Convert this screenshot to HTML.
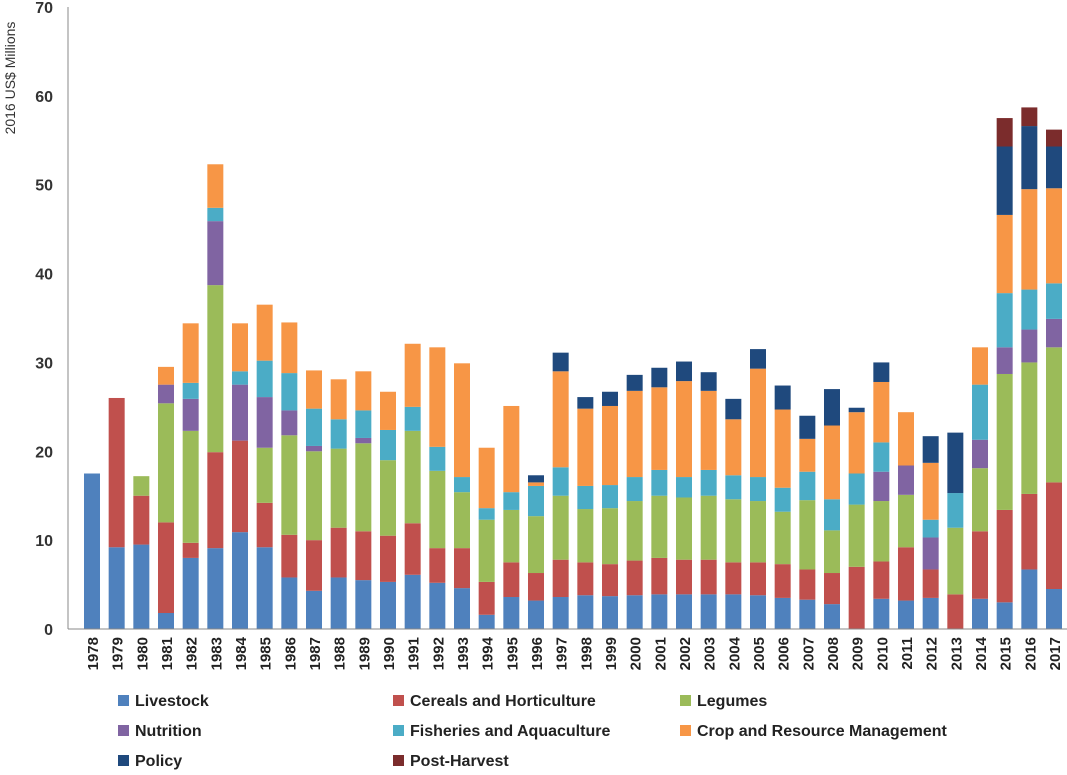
<!DOCTYPE html>
<html><head><meta charset="utf-8"><style>
body{margin:0;background:#fff;font-family:"Liberation Sans",sans-serif;}
svg text{font-family:"Liberation Sans",sans-serif;}
</style></head><body>
<svg id="chart" width="1067" height="770" xmlns="http://www.w3.org/2000/svg">
<g id="plot"></g>
<g id="legend"></g>
</svg>
<script>
const years=[1978,1979,1980,1981,1982,1983,1984,1985,1986,1987,1988,1989,1990,1991,1992,1993,1994,1995,1996,1997,1998,1999,2000,2001,2002,2003,2004,2005,2006,2007,2008,2009,2010,2011,2012,2013,2014,2015,2016,2017];
const seriesNames=["Livestock","Cereals and Horticulture","Legumes","Nutrition","Fisheries and Aquaculture","Crop and Resource Management","Policy","Post-Harvest"];
const livestock=[17.5,9.2,9.5,1.8,8.0,9.1,10.9,9.2,5.8,4.3,5.8,5.5,5.3,6.1,5.2,4.6,1.6,3.6,3.2,3.6,3.8,3.7,3.8,3.9,3.9,3.9,3.9,3.8,3.5,3.3,2.8,0,3.4,3.2,3.5,0,3.4,3.0,6.7,4.5];
const cereals=[0,16.8,5.5,10.2,1.7,10.8,10.3,5.0,4.8,5.7,5.6,5.5,5.2,5.8,3.9,4.5,3.7,3.9,3.1,4.2,3.7,3.6,3.9,4.1,3.9,3.9,3.6,3.7,3.8,3.4,3.5,7.0,4.2,6.0,3.2,3.9,7.6,10.4,8.5,12.0];
const legumes=[0,0,2.2,13.4,12.6,18.8,0,6.2,11.2,10.0,8.9,9.9,8.5,10.4,8.7,6.3,7.0,5.9,6.4,7.2,6.0,6.3,6.7,7.0,7.0,7.2,7.1,6.9,5.9,7.8,4.8,7.0,6.8,5.9,0,7.5,7.1,15.3,14.8,15.2];
const nutrition=[0,0,0,2.1,3.6,7.2,6.3,5.7,2.8,0.6,0,0.6,0,0,0,0,0,0,0,0,0,0,0,0,0,0,0,0,0,0,0,0,3.3,3.3,3.6,0,3.2,3.0,3.7,3.2];
const fisheries=[0,0,0,0,1.8,1.5,1.5,4.1,4.2,4.2,3.3,3.1,3.4,2.7,2.7,1.7,1.3,2.0,3.4,3.2,2.6,2.6,2.7,2.9,2.3,2.9,2.7,2.7,2.7,3.2,3.5,3.5,3.3,0,2.0,3.9,6.2,6.1,4.5,4.0];
const crop=[0,0,0,2.0,6.7,4.9,5.4,6.3,5.7,4.3,4.5,4.4,4.3,7.1,11.2,12.8,6.8,9.7,0.4,10.8,8.7,8.9,9.7,9.3,10.8,8.9,6.3,12.2,8.8,3.7,8.3,6.9,6.8,6.0,6.4,0,4.2,8.8,11.3,10.7];
const policy=[0,0,0,0,0,0,0,0,0,0,0,0,0,0,0,0,0,0,0.8,2.1,1.3,1.6,1.8,2.2,2.2,2.1,2.3,2.2,2.7,2.6,4.1,0.5,2.2,0,3.0,6.8,0,7.7,7.1,4.7];
const postHarvest=[0,0,0,0,0,0,0,0,0,0,0,0,0,0,0,0,0,0,0,0,0,0,0,0,0,0,0,0,0,0,0,0,0,0,0,0,0,3.2,2.1,1.9];
const yTicks=[0,10,20,30,40,50,60,70];
const colors=["#4f81bd","#c0504d","#9bbb59","#8064a2","#4bacc6","#f79646","#1f497d","#7b2c2c"];
const series=[livestock,cereals,legumes,nutrition,fisheries,crop,policy,postHarvest];
const NS="http://www.w3.org/2000/svg";
const x0=68,y0=629,yTop=7,yMax=70;
const firstC=92,lastC=1054,bw=16;
function yS(v){return y0-(v/yMax)*(y0-yTop);}
function xS(i){return firstC+i*(lastC-firstC)/(years.length-1);}
function mk(t,a,p){const e=document.createElementNS(NS,t);for(const k in a)e.setAttribute(k,a[k]);p.appendChild(e);return e;}
const plot=document.getElementById('plot');
// y ticks
yTicks.forEach(v=>{
 const t=mk('text',{x:53,y:yS(v)+6,'text-anchor':'end','font-size':16,'font-weight':'bold',fill:'#333'},plot);
 t.textContent=v;
 
 
});
const yt=mk('text',{x:0,y:0,transform:'translate(15,78) rotate(-90)','text-anchor':'middle','font-size':14,fill:'#333'},plot);
yt.textContent='2016 US$ Millions';


// bars
years.forEach((yr,i)=>{
 let cum=0;
 series.forEach((s,k)=>{
  const v=s[i]; if(!v)return;
  const r=mk('rect',{x:xS(i)-bw/2,y:yS(cum+v),width:bw,height:yS(cum)-yS(cum+v),fill:colors[k]},plot);
  
  
  cum+=v;
 });
 const t=mk('text',{x:0,y:0,transform:`translate(${xS(i)+6},${637}) rotate(-90)`,'text-anchor':'end','font-size':15,'font-weight':'bold',fill:'#222'},plot);
 t.textContent=yr;
 
 
});
const ax=mk('line',{x1:x0,y1:yTop,x2:x0,y2:y0,stroke:'#888','stroke-width':1},plot);


const bx=mk('line',{x1:x0,y1:y0,x2:1067,y2:y0,stroke:'#888','stroke-width':1},plot);


// legend
const lg=document.getElementById('legend');
const lx=[118,393,680],ly=[701,731,761];
seriesNames.forEach((n,k)=>{
 const cx=lx[k%3],cy=ly[Math.floor(k/3)];
 const r=mk('rect',{x:cx,y:cy-6,width:11,height:11,fill:colors[k]},lg);
 
 
 const t=mk('text',{x:cx+17,y:cy+5,'font-size':16,'font-weight':'bold',fill:'#222'},lg);
 t.textContent=n;
 
 
});
</script>
</body></html>
